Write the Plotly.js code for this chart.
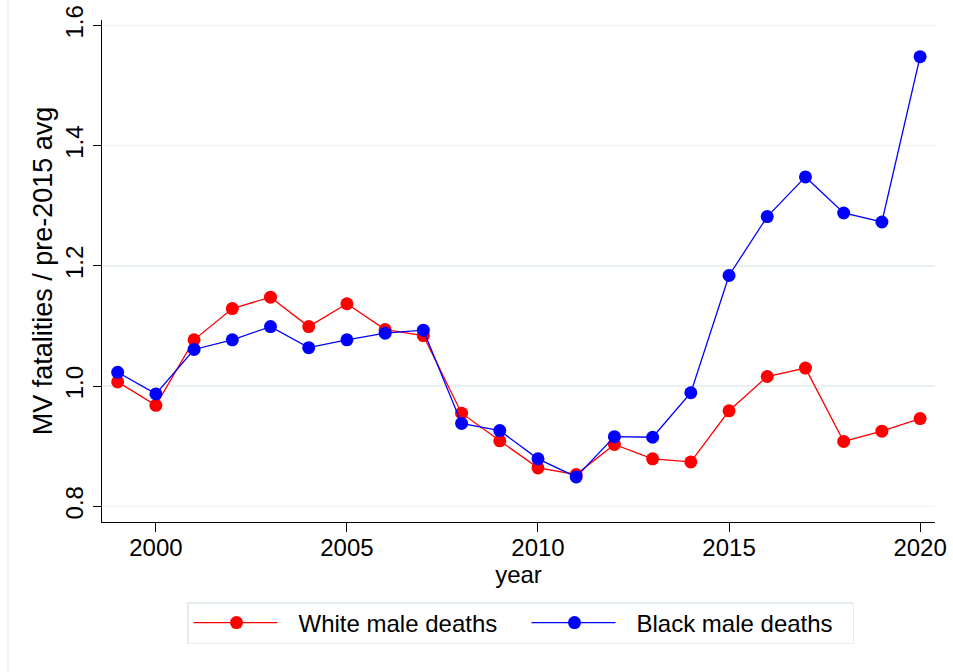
<!DOCTYPE html>
<html>
<head>
<meta charset="utf-8">
<script src="https://cdn.plot.ly/plotly-3.0.1.min.js"></script>
<style>
  html, body { margin: 0; padding: 0; background: #ffffff; }
  #chart { width: 953px; height: 672px; }
</style>
</head>
<body>
<div id="chart"></div>
<script>
// Motor-vehicle fatalities among men, each year relative to the pre-2015 average
const years = [1999, 2000, 2001, 2002, 2003, 2004, 2005, 2006, 2007, 2008, 2009,
               2010, 2011, 2012, 2013, 2014, 2015, 2016, 2017, 2018, 2019, 2020];

const whiteMale = [1.007, 0.968, 1.077, 1.129, 1.148, 1.099, 1.137, 1.094, 1.084, 0.955, 0.909,
                   0.864, 0.853, 0.903, 0.879, 0.874, 0.959, 1.016, 1.030, 0.908, 0.925, 0.946];

const blackMale = [1.023, 0.987, 1.061, 1.077, 1.099, 1.064, 1.077, 1.088, 1.093, 0.938, 0.926,
                   0.879, 0.849, 0.916, 0.915, 0.989, 1.184, 1.282, 1.348, 1.288, 1.273, 1.548];

const seriesNames = ['White male deaths', 'Black male deaths'];
const yTicks = [0.8, 1.0, 1.2, 1.4, 1.6];
const yTickText = ['0.8', '1.0', '1.2', '1.4', '1.6'];
const xTicks = [2000, 2005, 2010, 2015, 2020];

const FONT = '"Liberation Sans", Arial, Helvetica, sans-serif';

const traces = [
  {
    x: years, y: whiteMale, name: seriesNames[0],
    type: 'scatter', mode: 'lines+markers',
    line: { color: '#ff0000', width: 1.3 },
    marker: { color: '#ff0000', size: 13 }
  },
  {
    x: years, y: blackMale, name: seriesNames[1],
    type: 'scatter', mode: 'lines+markers',
    line: { color: '#0000ff', width: 1.3 },
    marker: { color: '#0000ff', size: 13 }
  }
];

const layout = {
  width: 953, height: 672,
  paper_bgcolor: '#ffffff', plot_bgcolor: '#ffffff',
  margin: { l: 102, r: 18, t: 20, b: 150 },
  font: { family: FONT, size: 24, color: '#000000' },
  showlegend: true,
  legend: {
    orientation: 'h',
    x: (187 - 102) / 833, xanchor: 'left',
    y: (522 - 599) / 502, yanchor: 'top',
    bordercolor: '#e4ecee', borderwidth: 1.5,
    bgcolor: '#ffffff',
    font: { family: FONT, size: 24, color: '#000000' },
    itemwidth: 100,
    entrywidth: 223
  },
  xaxis: {
    range: [1998.59, 2020.39],
    tickmode: 'array', tickvals: xTicks,
    showgrid: false, zeroline: false,
    showline: true, linecolor: '#000000', linewidth: 1,
    ticks: 'outside', ticklen: 9, tickwidth: 1, tickcolor: '#000000',
    ticklabelstandoff: -5,
    tickfont: { family: FONT, size: 24 },
    title: { text: 'year', font: { family: FONT, size: 24 }, standoff: 3 },
    automargin: false
  },
  yaxis: {
    range: [0.774, 1.609],
    tickmode: 'array', tickvals: yTicks, ticktext: yTickText,
    tickangle: -90,
    showgrid: true, gridcolor: '#eaf1f3', gridwidth: 1.5,
    zeroline: false,
    showline: true, linecolor: '#000000', linewidth: 1,
    ticks: 'outside', ticklen: 8, tickwidth: 1, tickcolor: '#000000',
    tickfont: { family: FONT, size: 24 },
    title: { text: 'MV fatalities / pre-2015 avg', font: { family: FONT, size: 27 }, standoff: 0 },
    automargin: false
  },
  shapes: [
    // faint outer frame edge on the left of the graph region
    { type: 'line', xref: 'paper', yref: 'paper',
      x0: (8 - 102) / 833, x1: (8 - 102) / 833, y0: -150 / 502, y1: 1 + 20 / 502,
      line: { color: '#e8eef0', width: 1.5 } }
  ]
};

Plotly.newPlot('chart', traces, layout, { displayModeBar: false, staticPlot: true }).then(function (gd) {
  // stretch legend sample lines to the wider key used in this chart
  gd.querySelectorAll('.legendlines path').forEach(function (p) {
    p.setAttribute('d', 'M5,0h84');
  });
  gd.querySelectorAll('.legendpoints path').forEach(function (p) {
    p.setAttribute('transform', 'translate(48,0)');
  });
  // tighten the legend frame around its single row of keys
  const bg = gd.querySelector('.legend rect.bg');
  if (bg) {
    const h = parseFloat(bg.getAttribute('height'));
    const w = parseFloat(bg.getAttribute('width'));
    const y = parseFloat(bg.getAttribute('y') || 0);
    bg.setAttribute('height', h - 6);
    bg.setAttribute('width', w - 12);
    bg.setAttribute('y', y + 3);
  }
});
</script>
</body>
</html>
